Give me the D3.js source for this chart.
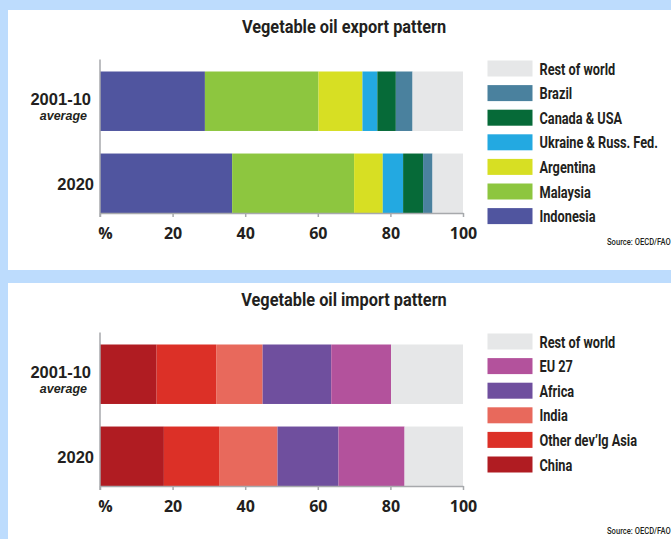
<!DOCTYPE html>
<html>
<head>
<meta charset="utf-8">
<script src="https://cdn.jsdelivr.net/npm/d3@7"></script>
<style>
  html, body { margin: 0; padding: 0; background: #bddcfd; }
  svg { display: block; }
</style>
</head>
<body>
<svg id="chart" width="671" height="539"></svg>
<script>
// Periods shown as the two bars of each panel
const periods = ["2001-10", "2020"];
const periodSubLabels = ["average", ""];

// Exporters (stack order left to right) and their shares, %
const exportSeries = ["Indonesia", "Malaysia", "Argentina", "Ukraine & Russ. Fed.", "Canada & USA", "Brazil", "Rest of world"];
const exportColors = ["#50559f", "#8dc63f", "#d7df23", "#23a9e1", "#066a38", "#4a819e", "#e6e7e8"];
const exportAvg  = [28.9, 31.3, 12.1, 4.1, 5.1, 4.6, 13.9];
const export2020 = [36.4, 33.6, 7.9, 5.6, 5.5, 2.6, 8.4];

// Importers (stack order left to right) and their shares, %
const importSeries = ["China", "Other dev\u2019lg Asia", "India", "Africa", "EU 27", "Rest of world"];
const importColors = ["#b01c22", "#dc3027", "#e8695c", "#6f4f9e", "#b3529c", "#e6e7e8"];
const importAvg  = [15.6, 16.4, 12.8, 18.9, 16.5, 19.8];
const import2020 = [17.6, 15.2, 16.1, 16.8, 18.2, 16.1];

// Axis ticks
const tickValues = [0, 20, 40, 60, 80, 100];
const tickLabels = ["%", "20", "40", "60", "80", "100"];

const sourceText = "Source: OECD/FAO";

const panels = [
  { title: "Vegetable oil export pattern", series: exportSeries, colors: exportColors,
    values: [exportAvg, export2020], top: 10, height: 260 },
  { title: "Vegetable oil import pattern", series: importSeries, colors: importColors,
    values: [importAvg, import2020], top: 283, height: 270 }
];

const svg = d3.select("#chart");
const ink = "#231f20";
const condensed = "Roboto, 'Liberation Sans', sans-serif";
const sans = "'Open Sans', 'Noto Sans', sans-serif";
const labelFont = "'Liberation Sans', Arial, sans-serif";

const x = d3.scaleLinear().domain([0, 100]).range([100, 463]);

panels.forEach(p => {
  const g = svg.append("g");

  // white card
  g.append("rect")
    .attr("x", 8).attr("y", p.top)
    .attr("width", 663).attr("height", p.height)
    .attr("fill", "#ffffff");

  // title (bold condensed)
  g.append("text")
    .attr("transform", `translate(344,${p.top + 22.5}) scale(0.86,1)`)
    .attr("text-anchor", "middle")
    .attr("font-family", condensed)
    .attr("font-weight", 700)
    .attr("font-size", 19)
    .attr("fill", ink)
    .text(p.title);

  const chartTop = p.top + 61.5;
  const y = d3.scaleBand()
    .domain(periods)
    .range([chartTop, chartTop + 141.5])
    .paddingInner(0.275)
    .paddingOuter(0);
  const axisY = chartTop + 141.5;

  // stacked bars
  const rows = periods.map((per, i) => {
    const o = { period: per };
    p.series.forEach((s, j) => { o[s] = p.values[i][j]; });
    return o;
  });
  const stacked = d3.stack().keys(p.series)(rows);
  const color = d3.scaleOrdinal().domain(p.series).range(p.colors);

  g.append("g").selectAll("g")
    .data(stacked)
    .join("g")
      .attr("fill", d => color(d.key))
    .selectAll("rect")
    .data(d => d)
    .join("rect")
      .attr("x", d => x(d[0]))
      .attr("width", d => x(d[1]) - x(d[0]))
      .attr("y", d => y(d.data.period))
      .attr("height", y.bandwidth());

  // vertical baseline
  g.append("line")
    .attr("x1", x(0)).attr("x2", x(0))
    .attr("y1", chartTop - 12).attr("y2", axisY + 4)
    .attr("stroke", "#a7a9ac").attr("stroke-width", 1.5);

  // x axis
  const axis = d3.axisBottom(x)
    .tickValues(tickValues)
    .tickFormat((d, i) => tickLabels[i])
    .tickSize(4)
    .tickSizeOuter(0);
  const ax = g.append("g")
    .attr("transform", `translate(0,${axisY})`)
    .call(axis);
  ax.select(".domain").attr("stroke", "#a7a9ac").attr("stroke-width", 1.5);
  ax.selectAll(".tick line").attr("stroke", "#a7a9ac").attr("stroke-width", 1.5);
  ax.selectAll(".tick text")
    .attr("y", 26).attr("dy", null)
    .attr("dx", (d, i) => i === 0 ? 5 : 0)
    .attr("font-family", sans)
    .attr("font-weight", 700)
    .attr("font-size", 16)
    .attr("fill", ink);

  // period labels (a second italic line where there is one)
  periods.forEach((per, i) => {
    const cy = y(per) + y.bandwidth() / 2;
    const sub = periodSubLabels[i];
    g.append("text")
      .attr("x", sub ? 91 : 94)
      .attr("y", cy + (sub ? 4 : 6.5))
      .attr("text-anchor", "end")
      .attr("font-family", labelFont)
      .attr("font-weight", 700)
      .attr("font-size", 16.5)
      .attr("fill", ink)
      .text(per);
    if (sub) {
      g.append("text")
        .attr("x", 87)
        .attr("y", cy + 19)
        .attr("text-anchor", "end")
        .attr("font-family", labelFont)
        .attr("font-weight", 700)
        .attr("font-style", "italic")
        .attr("font-size", 12.5)
        .attr("fill", ink)
        .text(sub);
    }
  });

  // legend, top entry is the last series
  const legendItems = p.series.slice().reverse();
  const lg = g.append("g").selectAll("g")
    .data(legendItems)
    .join("g")
      .attr("transform", (d, i) => `translate(487.5,${p.top + 50.5 + i * 24.6})`);
  lg.append("rect")
    .attr("width", 45).attr("height", 16)
    .attr("fill", d => color(d));
  lg.append("text")
    .attr("transform", "translate(52,14) scale(0.75,1)")
    .attr("font-family", condensed)
    .attr("font-weight", 700)
    .attr("font-size", 17)
    .attr("fill", ink)
    .text(d => d);

  // source note
  g.append("text")
    .attr("transform", `translate(607,${p.top + (p.top > 100 ? 251 : 235)}) scale(0.8,1)`)
    .attr("font-family", condensed)
    .attr("font-weight", 500)
    .attr("font-size", 9.5)
    .attr("fill", ink)
    .text(sourceText);
});
</script>
</body>
</html>
